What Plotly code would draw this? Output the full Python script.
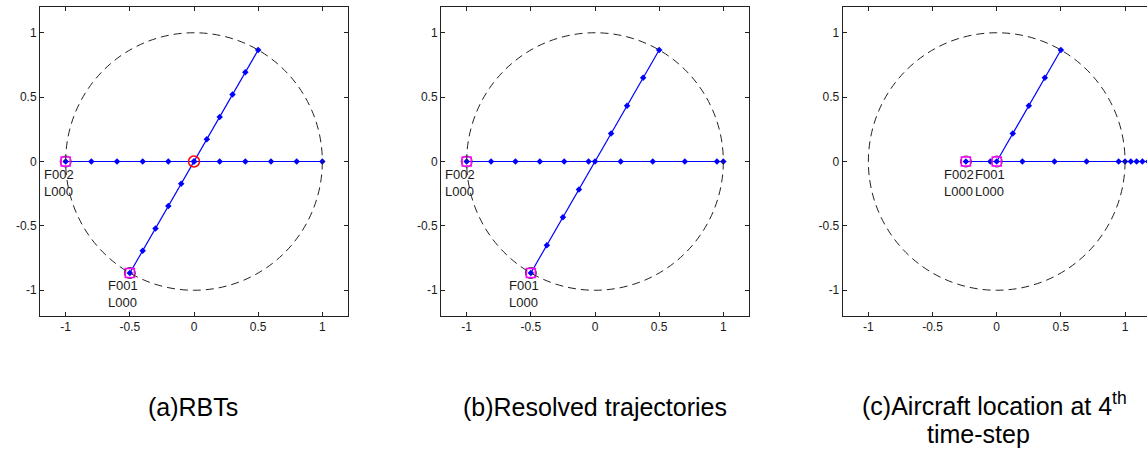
import plotly.graph_objects as go

# ---- (a) RBTs: reference business trajectories ----
a_f002_x = [-1.0, -0.8, -0.6, -0.4, -0.2, 0.0, 0.2, 0.4, 0.6, 0.8, 1.0]
a_f002_y = [0, 0, 0, 0, 0, 0, 0, 0, 0, 0, 0]
a_f001_x = [-0.5, -0.4, -0.3, -0.2, -0.1, 0.0, 0.1, 0.2, 0.3, 0.4, 0.5]
a_f001_y = [-0.866, -0.693, -0.520, -0.346, -0.173, 0.0, 0.173, 0.346, 0.520, 0.693, 0.866]
a_conflict_x = [0.0]
a_conflict_y = [0.0]

# ---- (b) resolved trajectories ----
b_f002_x = [-1.0, -0.81, -0.62, -0.43, -0.24, -0.05, 0.2, 0.45, 0.7, 0.95, 1.0]
b_f002_y = [0, 0, 0, 0, 0, 0, 0, 0, 0, 0, 0]
b_f001_x = [-0.5, -0.375, -0.25, -0.125, 0.0, 0.125, 0.25, 0.375, 0.5]
b_f001_y = [-0.866, -0.65, -0.433, -0.217, 0.0, 0.217, 0.433, 0.65, 0.866]

# ---- (c) aircraft location at the 4th time-step ----
c_f002_x = [-0.24, -0.05, 0.2, 0.45, 0.7, 0.95, 1.0, 1.045, 1.09, 1.135, 1.18]
c_f002_y = [0, 0, 0, 0, 0, 0, 0, 0, 0, 0, 0]
c_f001_x = [0.0, 0.125, 0.25, 0.375, 0.5]
c_f001_y = [0.0, 0.217, 0.433, 0.65, 0.866]

# current aircraft positions and their tags, per panel
a_pos = {"F001": (-0.5, -0.866), "F002": (-1.0, 0.0)}
b_pos = {"F001": (-0.5, -0.866), "F002": (-1.0, 0.0)}
c_pos = {"F001": (0.0, 0.0), "F002": (-0.24, 0.0)}
level_tag = "L000"

tick_vals = [-1, -0.5, 0, 0.5, 1]
tick_text = ["-1", "-0.5", "0", "0.5", "1"]

captions = ["(a)RBTs", "(b)Resolved trajectories",
            "(c)Aircraft location at 4<sup>th</sup>", "time-step"]

W, H = 1147, 452
TOP, BOTTOM = 7, 316  # plot area rows in pixels

panels = [
    dict(xa="x", ya="y", dom=(40, 348), xr=(-1.2, 1.2), full=True,
         f002=(a_f002_x, a_f002_y), f001=(a_f001_x, a_f001_y), pos=a_pos),
    dict(xa="x2", ya="y2", dom=(441, 749), xr=(-1.2, 1.2), full=True,
         f002=(b_f002_x, b_f002_y), f001=(b_f001_x, b_f001_y), pos=b_pos),
    dict(xa="x3", ya="y3", dom=(842.7, 1147), xr=(-1.2, 1.171), full=False,
         f002=(c_f002_x, c_f002_y), f001=(c_f001_x, c_f001_y), pos=c_pos),
]

BLUE = "rgb(0,0,255)"
TXT = "#1a1a1a"
FONT = "Liberation Sans, Arial, sans-serif"
fig = go.Figure()

for p in panels:
    for xs, ys in (p["f002"], p["f001"]):
        fig.add_trace(go.Scatter(
            x=xs, y=ys, mode="lines+markers", xaxis=p["xa"], yaxis=p["ya"],
            line=dict(color=BLUE, width=1.2),
            marker=dict(color=BLUE, size=5, symbol="diamond"),
            showlegend=False, hoverinfo="skip"))
    px_ = [v[0] for v in p["pos"].values()]
    py_ = [v[1] for v in p["pos"].values()]
    fig.add_trace(go.Scatter(
        x=px_, y=py_, mode="markers", xaxis=p["xa"], yaxis=p["ya"],
        marker=dict(symbol="circle-open", size=11, color="#333333", line=dict(width=1)),
        showlegend=False, hoverinfo="skip"))
    fig.add_trace(go.Scatter(
        x=px_, y=py_, mode="markers", xaxis=p["xa"], yaxis=p["ya"],
        marker=dict(symbol="square-open", size=9, color="magenta", line=dict(width=1.5)),
        showlegend=False, hoverinfo="skip"))
    # safety-zone circle of unit radius
    fig.add_shape(type="circle", xref=p["xa"], yref=p["ya"],
                  x0=-1, x1=1, y0=-1, y1=1,
                  line=dict(color="#222222", width=1, dash="8px,5px"))
    for name, (x, y) in p["pos"].items():
        fig.add_annotation(x=x, y=y, xref=p["xa"], yref=p["ya"],
                           text=f"{name}<br>{level_tag}", showarrow=False,
                           xanchor="left", yanchor="top", xshift=-24, yshift=-3,
                           align="left", font=dict(size=13, color=TXT, family=FONT))

# conflict point on the reference trajectories
fig.add_trace(go.Scatter(
    x=a_conflict_x, y=a_conflict_y, mode="markers", xaxis="x", yaxis="y",
    marker=dict(symbol="circle-open", size=11, color="red", line=dict(width=1.5)),
    showlegend=False, hoverinfo="skip"))

axis_common = dict(showgrid=False, zeroline=False, showline=True,
                   linecolor="#222222", linewidth=1, ticks="inside", ticklen=4,
                   tickcolor="#222222", tickvals=tick_vals, ticktext=tick_text,
                   tickfont=dict(size=12, color=TXT, family=FONT))

layout = dict(width=W, height=H, paper_bgcolor="white", plot_bgcolor="white",
              margin=dict(l=0, r=0, t=TOP, b=H - BOTTOM),
              font=dict(family=FONT, color=TXT))

for i, p in enumerate(panels):
    sfx = "" if i == 0 else str(i + 1)
    layout["xaxis" + sfx] = dict(axis_common, domain=[p["dom"][0] / W, min(p["dom"][1] / W, 1.0)],
                                 range=list(p["xr"]), anchor="y" + sfx, mirror="ticks")
    layout["yaxis" + sfx] = dict(axis_common, domain=[0, 1], range=[-1.2, 1.2],
                                 anchor="x" + sfx,
                                 mirror="ticks" if p["full"] else False)

fig.update_layout(**layout)


def py_paper(px):
    """pixel row -> paper y coordinate of the plot area"""
    return (BOTTOM - px) / (BOTTOM - TOP)


cap_font = dict(size=25, color="black", family=FONT)
# (centre x, y pixel, vertical anchor) for each caption line
cap_pos = [(193, 407, "middle"), (595, 407, "middle"),
           (995, 404, "middle"), (978, 418, "top")]
for txt, (cx, cy, anc) in zip(captions, cap_pos):
    fig.add_annotation(x=cx / W, y=py_paper(cy), xref="paper", yref="paper",
                       text=txt, showarrow=False, xanchor="center", yanchor=anc,
                       font=cap_font)

fig.write_html("out.html")
